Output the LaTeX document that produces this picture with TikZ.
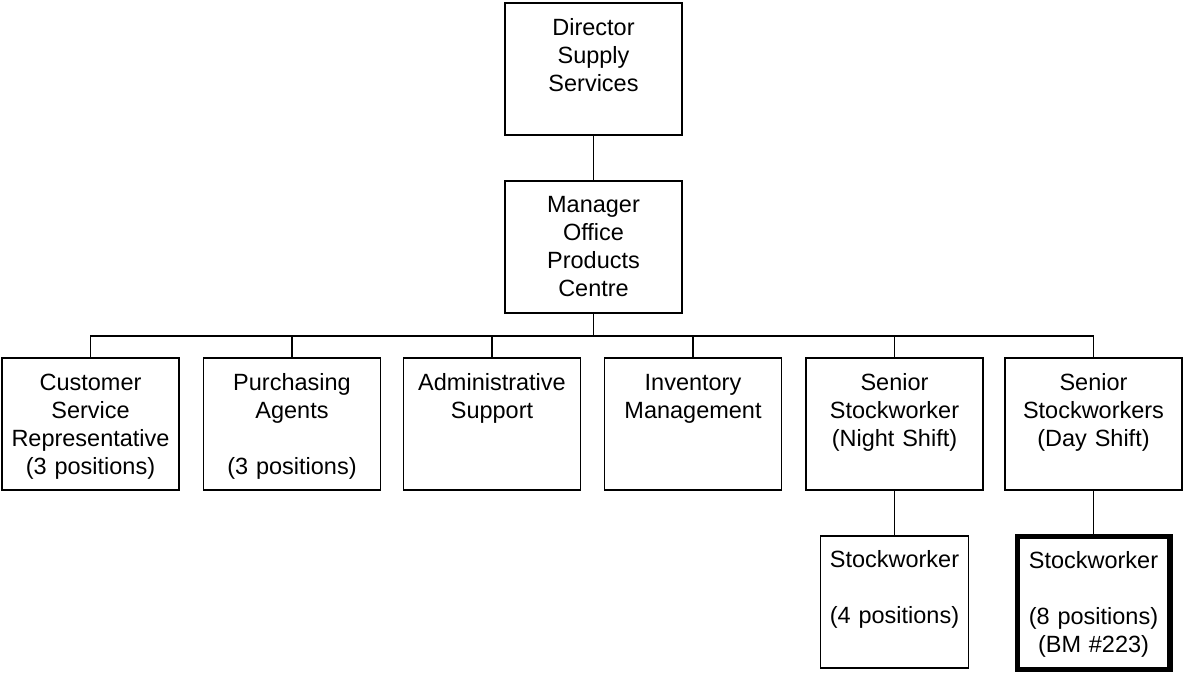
\documentclass[tikz,border=0pt]{standalone}
\usepackage{fontspec}
\setmainfont{Liberation Sans}
\usepackage{tikz}
\usetikzlibrary{positioning}
\newcommand\boxstrut{\rule[-0.22\baselineskip]{0pt}{\baselineskip}}

\tikzset{
    orgbox/.style={draw, rectangle, line width=1.1pt, inner sep=0pt, align=center,
        minimum width=3.54cm, minimum height=2.64cm, text width=3.4cm,
        font=\fontsize{13.37pt}{15.93pt}\selectfont,
        execute at begin node=\boxstrut, execute at end node=\boxstrut},
    subbox/.style={orgbox, minimum width=2.96cm, text width=2.8cm},
    heavybox/.style={subbox, line width=2.85pt, minimum width=3.06cm, minimum height=2.68cm},
    link/.style={line width=1.1pt}
}

\begin{document}
\begin{tikzpicture}[x=0.02cm, y=-0.02cm]
\useasboundingbox (0,0) rectangle (1183,675);

\node (Director) [orgbox] at (593.5,69.3) {Director\\Supply\\Services\\ \boxstrut};
\node (Manager) [orgbox] at (593.5,246.8) {Manager\\Office\\Products\\Centre};
\coordinate (bus) at (593.5,335.7);

    \node (Customer) [orgbox] at (90.5,424.3) {Customer\\Service\\Representative\\(3 positions)};
    \node (Purchasing) [orgbox] at (292,424.3) {Purchasing\\Agents\\ \boxstrut\\(3 positions)};
    \node (Admin) [orgbox] at (492,424.3) {Administrative\\Support\\ \boxstrut\\ \boxstrut};
    \node (Inventory) [orgbox] at (693,424.3) {Inventory\\Management\\ \boxstrut\\ \boxstrut};
    \node (NightShift) [orgbox] at (894.5,424.3) {Senior\\Stockworker\\(Night Shift)\\ \boxstrut};
    \node (DayShift) [orgbox] at (1093.5,424.3) {Senior\\Stockworkers\\(Day Shift)\\ \boxstrut};

    \node (NightCrew) [subbox] at (894.5,601.7) {Stockworker\\ \boxstrut\\(4 positions)\\ \boxstrut};
    \node (DayCrew) [heavybox] at (1093.5,603) {Stockworker\\ \boxstrut\\(8 positions)\\(BM \#223)};

\draw [link] (Director) -- (Manager);
\draw [link] (Manager) -- (bus);
\foreach \n in {Customer,Purchasing,Admin,Inventory,NightShift,DayShift}
    \draw [link] (\n.north) |- (bus);
\draw [link] (NightShift) -- (NightCrew);
\draw [link] (DayShift) -- (DayCrew);
\end{tikzpicture}
\end{document}
